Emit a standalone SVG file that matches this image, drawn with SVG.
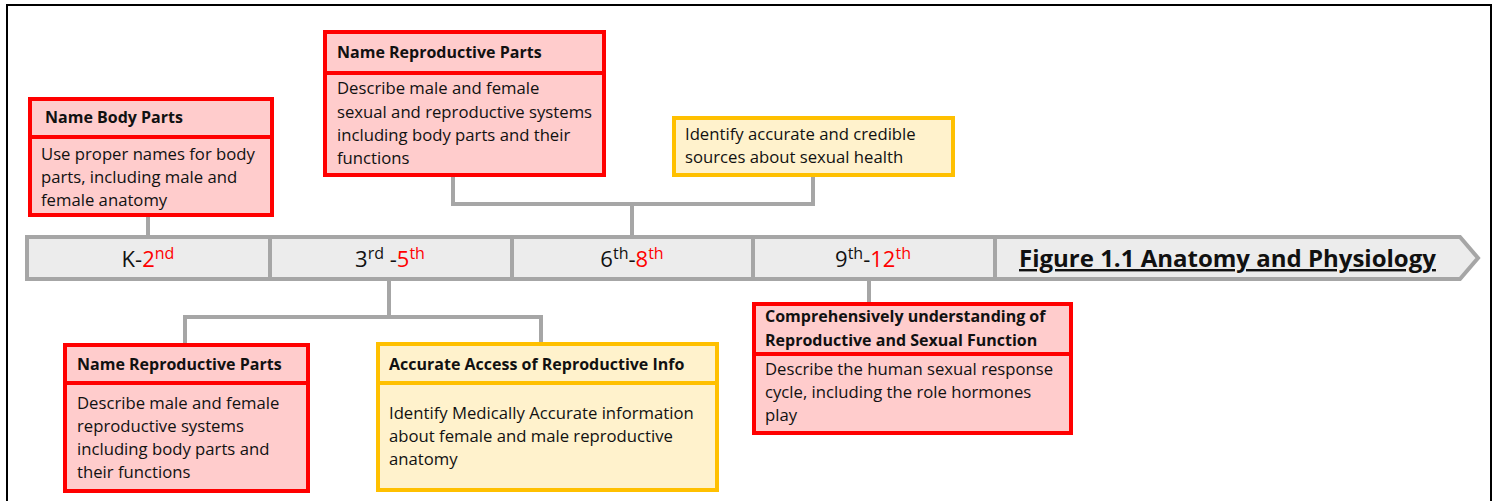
<svg xmlns="http://www.w3.org/2000/svg" width="1494" height="501" viewBox="0 0 1494 501">
  <style>
    .txt { font-family: "Open Sans", "Liberation Sans", sans-serif; fill: #111; }
    .body { font-size: 16.7px; }
    .head { font-size: 16px; font-weight: bold; }
    .grade { font-size: 22px; }
    .sup { font-size: 16px; }
    .red { fill: #ff0000; }
    .boxR { fill: #ffcccc; stroke: #ff0000; stroke-width: 4; }
    .boxY { fill: #fff2cc; stroke: #ffc000; stroke-width: 4; }
    .conn { fill: none; stroke: #a6a6a6; stroke-width: 4; }
    .bar { fill: #ececec; stroke: #a6a6a6; stroke-width: 4; }
  </style>

  <!-- outer frame -->
  <rect x="7" y="5" width="1484" height="510" fill="#ffffff" stroke="#000000" stroke-width="2"/>

  <!-- connectors -->
  <g id="connectors">
    <path class="conn" d="M148,217 V237"/>
    <path class="conn" d="M453,177 V204 H813 V177"/>
    <path class="conn" d="M632,204 V237"/>
    <path class="conn" d="M389,279 V317"/>
    <path class="conn" d="M185,343 V317 H541 V343"/>
    <path class="conn" d="M869,279 V302"/>
  </g>

  <!-- timeline bar -->
  <g id="timeline">
    <path class="bar" d="M27,237 H1460 L1478,258 L1460,279 H27 Z"/>
    <path class="conn" d="M270,237 V279 M512,237 V279 M753,237 V279 M995,237 V279"/>
    <text class="txt grade" x="148" y="267" text-anchor="middle">K-<tspan class="red">2</tspan><tspan class="red sup" dy="-8">nd</tspan></text>
    <text class="txt grade" x="390" y="267" text-anchor="middle">3<tspan class="sup" dy="-8">rd</tspan><tspan dy="8"> -</tspan><tspan class="red">5</tspan><tspan class="red sup" dy="-8">th</tspan></text>
    <text class="txt grade" x="632" y="267" text-anchor="middle">6<tspan class="sup" dy="-8">th</tspan><tspan dy="8">-</tspan><tspan class="red">8</tspan><tspan class="red sup" dy="-8">th</tspan></text>
    <text class="txt grade" x="873" y="267" text-anchor="middle">9<tspan class="sup" dy="-8">th</tspan><tspan dy="8">-</tspan><tspan class="red">12</tspan><tspan class="red sup" dy="-8">th</tspan></text>
    <text class="txt" x="1019" y="267" font-size="24" font-weight="bold" text-decoration="underline">Figure 1.1 Anatomy and Physiology</text>
  </g>

  <!-- K-2nd: body parts -->
  <g id="node-body-parts">
    <rect class="boxR" x="30" y="99" width="242" height="116"/>
    <path class="boxR" d="M30,137 H272"/>
    <text class="txt head" x="45" y="123">Name Body Parts</text>
    <text class="txt body" x="41" y="160">Use proper names for body</text>
    <text class="txt body" x="41" y="183">parts, including male and</text>
    <text class="txt body" x="41" y="206">female anatomy</text>
  </g>

  <!-- 6th-8th: reproductive parts -->
  <g id="node-repro-6-8">
    <rect class="boxR" x="325" y="32" width="279" height="143"/>
    <path class="boxR" d="M325,73 H604"/>
    <text class="txt head" x="337" y="58">Name Reproductive Parts</text>
    <text class="txt body" x="337" y="94">Describe male and female</text>
    <text class="txt body" x="337" y="118">sexual and reproductive systems</text>
    <text class="txt body" x="337" y="141">including body parts and their</text>
    <text class="txt body" x="337" y="164">functions</text>
  </g>

  <!-- 6th-8th: credible sources -->
  <g id="node-sources">
    <rect class="boxY" x="674" y="118" width="279" height="57"/>
    <text class="txt body" x="685" y="140">Identify accurate and credible</text>
    <text class="txt body" x="685" y="163">sources about sexual health</text>
  </g>

  <!-- 3rd-5th: reproductive parts -->
  <g id="node-repro-3-5">
    <rect class="boxR" x="65" y="345" width="243" height="146"/>
    <path class="boxR" d="M65,383 H308"/>
    <text class="txt head" x="77" y="370">Name Reproductive Parts</text>
    <text class="txt body" x="77" y="409">Describe male and female</text>
    <text class="txt body" x="77" y="432">reproductive systems</text>
    <text class="txt body" x="77" y="455">including body parts and</text>
    <text class="txt body" x="77" y="478">their functions</text>
  </g>

  <!-- 3rd-5th: accurate access -->
  <g id="node-access">
    <rect class="boxY" x="378" y="344" width="339" height="146"/>
    <path class="boxY" d="M378,383 H717"/>
    <text class="txt head" x="389" y="370">Accurate Access of Reproductive Info</text>
    <text class="txt body" x="389" y="419">Identify Medically Accurate information</text>
    <text class="txt body" x="389" y="442">about female and male reproductive</text>
    <text class="txt body" x="389" y="465">anatomy</text>
  </g>

  <!-- 9th-12th: sexual function -->
  <g id="node-function">
    <rect class="boxR" x="754" y="304" width="317" height="129"/>
    <path class="boxR" d="M754,354 H1071"/>
    <text class="txt head" x="765" y="322">Comprehensively understanding of</text>
    <text class="txt head" x="765" y="346">Reproductive and Sexual Function</text>
    <text class="txt body" x="765" y="375">Describe the human sexual response</text>
    <text class="txt body" x="765" y="398">cycle, including the role hormones</text>
    <text class="txt body" x="765" y="421">play</text>
  </g>
</svg>
